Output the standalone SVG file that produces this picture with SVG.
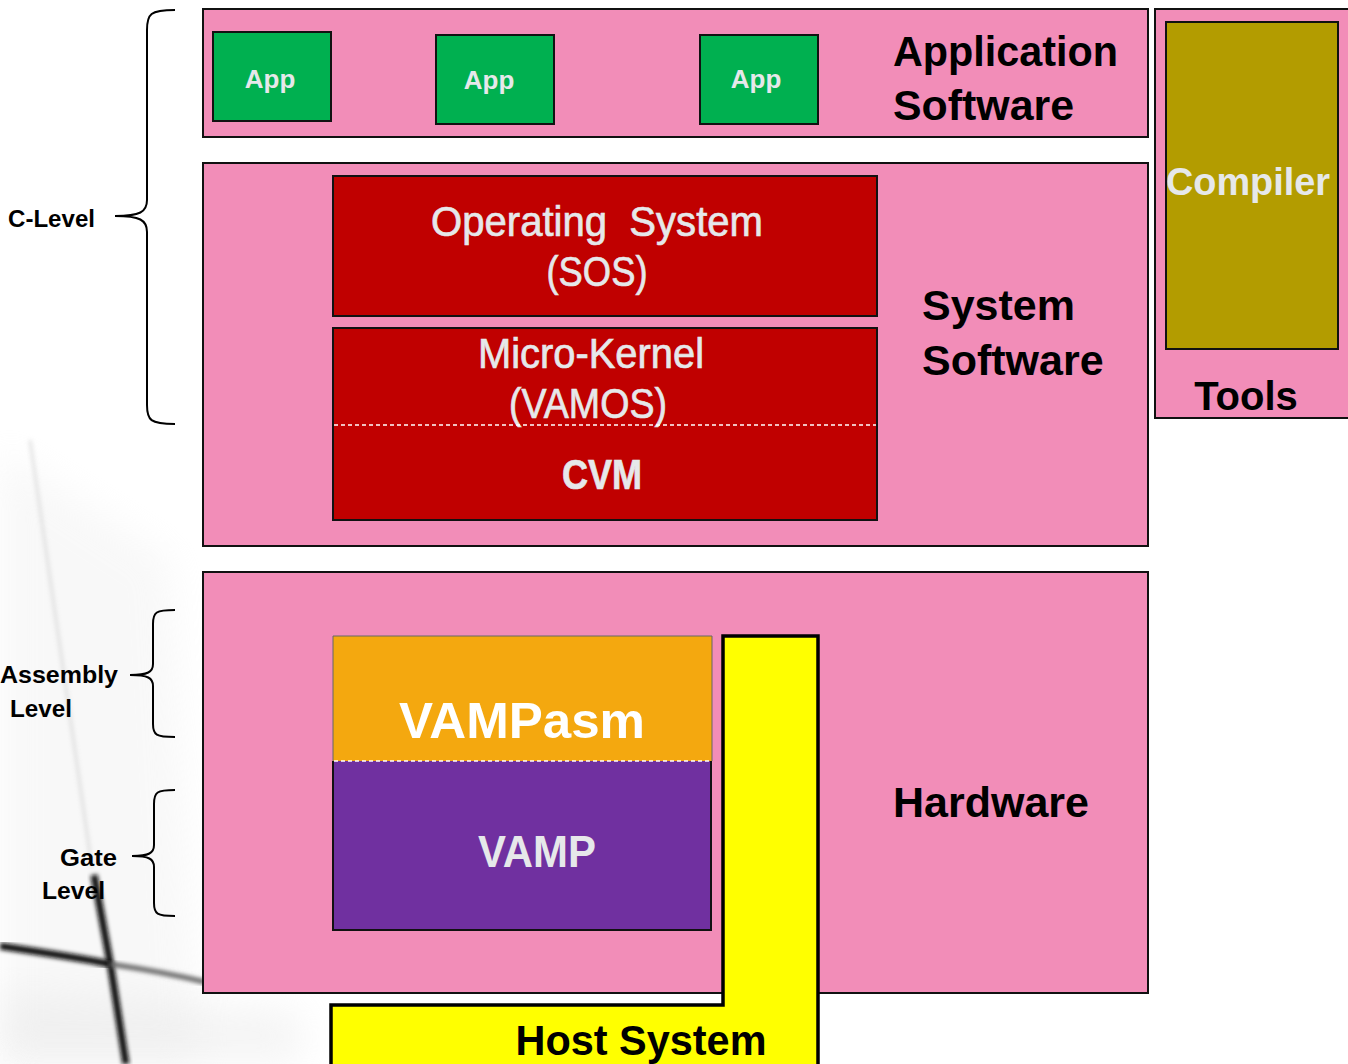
<svg xmlns="http://www.w3.org/2000/svg" width="1348" height="1064" viewBox="0 0 1348 1064">
  <style>
    .layer { fill: #F28DB8; stroke: #111; stroke-width: 2; }
    .app { fill: #00B050; stroke: #111; stroke-width: 2; }
    .red { fill: #C00000; stroke: #111; stroke-width: 2; }
    .lbl { font-family: "Liberation Sans", Arial, sans-serif; font-weight: bold; }
    .nar { font-family: "Liberation Sans", Arial, sans-serif; font-size: 42px; stroke: #E6E8EA; stroke-width: 0.7; }
    .big { font-size: 43px; fill: #000; }
    .side { font-size: 23px; fill: #000; }
    .light { fill: #E6E8EA; }
    .brace { fill: none; stroke: #000; stroke-width: 2; }
    .dash { stroke: #fff; stroke-width: 1.5; stroke-dasharray: 4 3; }
  </style>
  <defs>
    <filter id="soft" x="-20%" y="-20%" width="140%" height="140%"><feGaussianBlur stdDeviation="2"/></filter>
    <filter id="haze" x="-30%" y="-30%" width="160%" height="160%"><feGaussianBlur stdDeviation="18"/></filter>
  </defs>

  <rect width="1348" height="1064" fill="#fff"/>

  <!-- background swoosh, lower left -->
  <g id="backdrop">
    <path d="M0 450 L170 560 L200 1064 L0 1064 Z" fill="#ececec" opacity="0.35" filter="url(#haze)"/>
    <path d="M0 990 L300 1010 L300 1064 L0 1064 Z" fill="#e2e2e2" opacity="0.35" filter="url(#haze)"/>
    <path d="M30 440 L92 868" stroke="#c4c4c4" stroke-width="2.5" fill="none" opacity="0.6" filter="url(#soft)"/>
    <path d="M94 875 L110 962 L126 1064" stroke="#111" stroke-width="7" fill="none" filter="url(#soft)"/>
    <path d="M0 946 C40 952 80 958 110 964" stroke="#111" stroke-width="7" fill="none" filter="url(#soft)"/>
    <path d="M110 964 C150 970 180 976 205 982" stroke="#666" stroke-width="5" fill="none" filter="url(#soft)"/>
  </g>

  <!-- level braces -->
  <g id="levels">
    <path class="brace" d="M175 10 C150 10 147 14 147 30 L147 200 C147 212 140 216 115 216 C140 216 147 220 147 232 L147 405 C147 420 150 424 175 424"/>
    <text class="lbl side" x="8" y="227" textLength="87" lengthAdjust="spacingAndGlyphs">C-Level</text>
    <path class="brace" d="M175 610 C156 610 153 612 153 624 L153 664 C153 672 148 675 130 675 C148 675 153 678 153 686 L153 724 C153 735 156 737 175 737"/>
    <text class="lbl side" x="0" y="683" textLength="118" lengthAdjust="spacingAndGlyphs">Assembly</text>
    <text class="lbl side" x="10" y="717" textLength="62" lengthAdjust="spacingAndGlyphs">Level</text>
    <path class="brace" d="M175 790 C157 790 154 792 154 804 L154 845 C154 853 149 856 132 856 C149 856 154 859 154 867 L154 903 C154 914 157 916 175 916"/>
    <text class="lbl side" x="60" y="866" textLength="57" lengthAdjust="spacingAndGlyphs">Gate</text>
    <text class="lbl side" x="42" y="899" textLength="63" lengthAdjust="spacingAndGlyphs">Level</text>
  </g>

  <!-- application software layer -->
  <g id="application-software">
    <rect class="layer" x="203" y="9" width="945" height="128"/>
    <text class="lbl big" x="893" y="66" textLength="225" lengthAdjust="spacingAndGlyphs">Application</text>
    <text class="lbl big" x="893" y="120" textLength="181" lengthAdjust="spacingAndGlyphs">Software</text>
  </g>
  <g id="app-1">
    <rect class="app" x="213" y="32" width="118" height="89"/>
    <text class="lbl light" x="270" y="88" font-size="26" text-anchor="middle">App</text>
  </g>
  <g id="app-2">
    <rect class="app" x="436" y="35" width="118" height="89"/>
    <text class="lbl light" x="489" y="89" font-size="26" text-anchor="middle">App</text>
  </g>
  <g id="app-3">
    <rect class="app" x="700" y="35" width="118" height="89"/>
    <text class="lbl light" x="756" y="88" font-size="26" text-anchor="middle">App</text>
  </g>

  <!-- tools column -->
  <g id="tools">
    <rect class="layer" x="1155" y="9" width="200" height="409"/>
    <text class="lbl" x="1246" y="410" font-size="40" text-anchor="middle">Tools</text>
  </g>
  <g id="compiler">
    <rect x="1166" y="22" width="172" height="327" fill="#B39C00" stroke="#111" stroke-width="2"/>
    <text class="lbl light" x="1166" y="195" font-size="38" textLength="164" lengthAdjust="spacingAndGlyphs">Compiler</text>
  </g>

  <!-- system software layer -->
  <g id="system-software">
    <rect class="layer" x="203" y="163" width="945" height="383"/>
    <text class="lbl big" x="922" y="320">System</text>
    <text class="lbl big" x="922" y="375">Software</text>
  </g>
  <g id="operating-system">
    <rect class="red" x="333" y="176" width="544" height="140"/>
    <text class="nar light" x="597" y="236" text-anchor="middle" textLength="332" lengthAdjust="spacingAndGlyphs" xml:space="preserve">Operating  System</text>
    <text class="nar light" x="597" y="286" text-anchor="middle" textLength="101" lengthAdjust="spacingAndGlyphs">(SOS)</text>
  </g>
  <g id="micro-kernel">
    <rect class="red" x="333" y="328" width="544" height="192"/>
    <text class="nar light" x="591" y="368" text-anchor="middle" textLength="226" lengthAdjust="spacingAndGlyphs">Micro-Kernel</text>
    <text class="nar light" x="588" y="418" text-anchor="middle" textLength="158" lengthAdjust="spacingAndGlyphs">(VAMOS)</text>
    <line class="dash" x1="334" y1="425" x2="876" y2="425"/>
    <text class="nar light" x="602" y="489" font-weight="bold" text-anchor="middle" textLength="80" lengthAdjust="spacingAndGlyphs">CVM</text>
  </g>

  <!-- hardware layer -->
  <g id="hardware">
    <rect class="layer" x="203" y="572" width="945" height="421"/>
    <text class="lbl big" x="893" y="817">Hardware</text>
  </g>
  <g id="vampasm">
    <rect x="333" y="636" width="379" height="125" fill="#F4A80F"/>
    <path d="M333 761 L333 636 L712 636 L712 761" fill="none" stroke="#666" stroke-width="1"/>
    <text class="lbl" x="522" y="738" font-size="50" fill="#fff" text-anchor="middle" textLength="246" lengthAdjust="spacingAndGlyphs">VAMPasm</text>
  </g>
  <g id="vamp">
    <rect x="333" y="761" width="378" height="169" fill="#7030A0"/>
    <path d="M333 761 L333 930 L711 930 L711 761" fill="none" stroke="#111" stroke-width="2"/>
    <line class="dash" x1="334" y1="761" x2="711" y2="761"/>
    <text class="lbl light" x="537" y="867" font-size="44" text-anchor="middle" textLength="118" lengthAdjust="spacingAndGlyphs">VAMP</text>
  </g>

  <!-- host system, L-shaped -->
  <g id="host-system">
    <path d="M723 636 L818 636 L818 1070 L331 1070 L331 1005 L723 1005 Z" fill="#FFFF00" stroke="#000" stroke-width="3.5"/>
    <text class="lbl" x="641" y="1055" font-size="42" fill="#000" text-anchor="middle" textLength="251" lengthAdjust="spacingAndGlyphs">Host System</text>
  </g>

  <g id="connectors"></g>
</svg>
